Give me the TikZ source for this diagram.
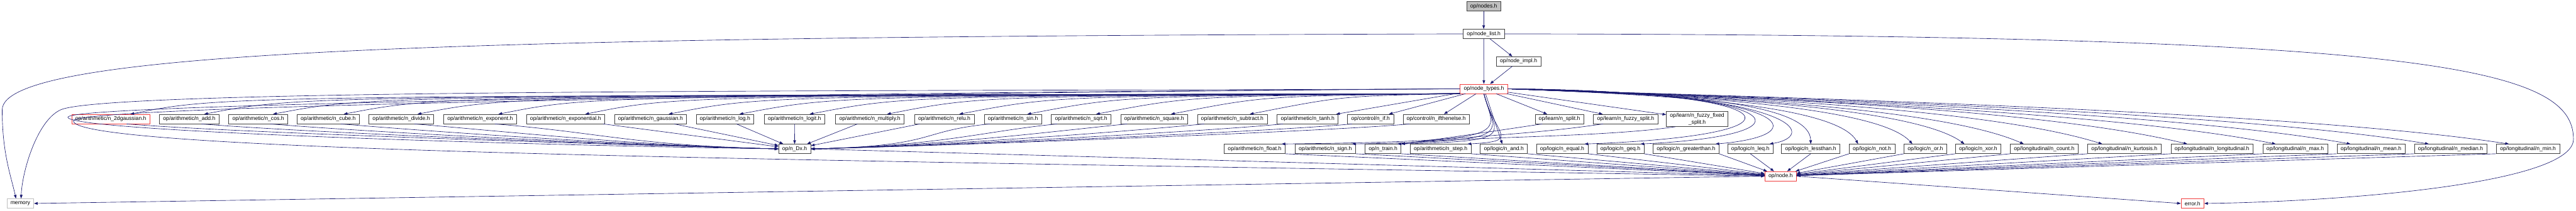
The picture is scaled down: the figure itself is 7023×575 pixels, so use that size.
\documentclass[tikz,border=0pt]{standalone}
\usepackage{fontspec}
\setmainfont{Liberation Sans}
\usepackage{tikz}
\usetikzlibrary{arrows.meta,positioning,calc}
\definecolor{edgeblue}{RGB}{25,25,112}
\definecolor{nodegrey}{RGB}{64,64,64}
\definecolor{sysgrey}{RGB}{191,191,191}
\definecolor{truncred}{RGB}{240,60,60}

\tikzset{
  file/.style={draw=nodegrey, line width=0.5pt, fill=white, inner xsep=5pt, inner ysep=0pt, minimum height=12.85pt},
  truncfile/.style={file, draw=truncred},
  sysfile/.style={file, draw=sysgrey},
  dep/.style={-{Triangle[length=5pt,width=3.6pt]}, edgeblue, line width=0.55pt},
}

\begin{document}
\begin{tikzpicture}[x=0.5pt, y=-0.5pt, font=\fontsize{7.4}{9}\selectfont]
\fill[white] (0,0) rectangle (7023,575);
\useasboundingbox (0,0) rectangle (7023,575);

% top of the graph
\node[file, fill=sysgrey] (root) at (4045,17.5) {op/nodes.h};
\node[file] (lst) at (4045,92.5) {op/node\_list.h};
\node[file] (impl) at (4140,167.5) {op/node\_impl.h};
\node[truncfile] (hub) at (4045.5,242.5) {op/node\_types.h};

% first row of operators
\node[truncfile] (g2d) at (302,325) {op/arithmetic/n\_2dgaussian.h};
\foreach \n/\x/\t in {nadd/516/n\_add, ncos/704/n\_cos, ncube/894.5/n\_cube, ndiv/1094/n\_divide,
  nexpo/1309/n\_exponent, nexpl/1542/n\_exponential, ngauss/1773.5/n\_gaussian, nlog/1976.5/n\_log,
  nlogit/2166/n\_logit, nmul/2371.5/n\_multiply, nrelu/2574.5/n\_relu, nsin/2761.5/n\_sin,
  nsqrt/2947.5/n\_sqrt, nsquare/3146.5/n\_square, nsub/3359.5/n\_subtract, ntanh/3565/n\_tanh}
  \node[file] (\n) at (\x,325) {op/arithmetic/\t.h};
\node[file] (nif) at (3736.5,325) {op/control/n\_if.h};
\node[file] (nite) at (3915.5,325) {op/control/n\_ifthenelse.h};
\node[file] (nsplit) at (4251.5,325) {op/learn/n\_split.h};
\node[file] (nfsplit) at (4432,325) {op/learn/n\_fuzzy\_split.h};
\node[file, align=center, minimum height=20.5pt] (nffsplit) at (4627,325) {op/learn/n\_fuzzy\_fixed\\\_split.h};

% second row of operators
\node[file] (dx) at (2166.5,406.5) {op/n\_Dx.h};
\node[file] (nfloat) at (3420.5,406.5) {op/arithmetic/n\_float.h};
\node[file] (nsign) at (3613,406.5) {op/arithmetic/n\_sign.h};
\node[file] (ntrain) at (3770.5,406.5) {op/n\_train.h};
\node[file] (nstep) at (3927.5,406.5) {op/arithmetic/n\_step.h};
\foreach \n/\x/\t in {nand/4100/n\_and, neq/4259/n\_equal, ngeq/4417.5/n\_geq, ngt/4596.5/n\_greaterthan,
  nleq/4772/n\_leq, nlt/4936.5/n\_lessthan, nnot/5103.5/n\_not, nor/5249/n\_or, nxor/5393/n\_xor}
  \node[file] (\n) at (\x,406.5) {op/logic/\t.h};
\foreach \n/\x/\t in {ncount/5573/n\_count, nkurt/5791.5/n\_kurtosis, nlong/6030.5/n\_longitudinal,
  nmax/6257.5/n\_max, nmean/6464/n\_mean, nmedian/6681/n\_median, nmin/6892/n\_min}
  \node[file] (\n) at (\x,406.5) {op/longitudinal/\t.h};

% bottom
\node[truncfile] (nodeh) at (4854.5,481) {op/node.h};
\node[sysfile] (memory) at (55.5,555.5) {memory};
\node[truncfile] (errorh) at (5977.5,555.5) {error.h};

% includes of the top files
\draw[dep] (root) -- (lst);
\draw[dep] (lst) -- (impl);
\draw[dep] (lst) -- (hub);
\draw[dep] (impl) -- (hub);
\draw[dep] (lst.west) .. controls (1200,100) and (6,140) .. (6,300) .. controls (6,420) and (30,480) .. ($(memory.north)+(-12,0)$);
\draw[dep] (lst.east) .. controls (6600,95) and (7016,180) .. (7016,380) .. controls (7016,500) and (6400,550) .. (errorh.east);

% hub to the first row
\foreach \n/\x in {g2d/302, nadd/516, ncos/704, ncube/894.5, ndiv/1094, nexpo/1309, nexpl/1542,
  ngauss/1773.5, nlog/1976.5, nlogit/2166, nmul/2371.5, nrelu/2574.5, nsin/2761.5, nsqrt/2947.5,
  nsquare/3146.5, nsub/3359.5}
  \draw[dep] (hub.south west) .. controls (\x+300,262) .. ($(\n.north)!.5!(\n.north east)$);
\foreach \n in {ntanh,nif,nite,nsplit,nfsplit,nffsplit}
  \draw[dep] (hub) -- (\n);

% hub round the left side
\draw[dep] (hub.west) .. controls (2600,250) and (295,240) .. (165,300) .. controls (100,330) and (60,470) .. ($(memory.north)+(2,0)$);
\draw[dep] (hub.west) .. controls (2600,250) and (185,280) .. (185,320) .. controls (185,360) and (1500,398) .. (dx.west);
\draw[dep] (hub.west) .. controls (2600,252) and (200,285) .. (200,330) .. controls (200,420) and (2500,440) .. (nodeh.west);

% hub to the second row
\foreach \n in {nfloat,nsign,ntrain,nstep}
  \draw[dep] (hub.south) .. controls (4075,370) and (4150,385) .. ($(\n.north east)+(-10,0)$);
\draw[dep] (hub) -- (nand);
\foreach \n in {neq,ngeq,ngt,nleq}
  \draw[dep] (hub.east) .. controls (4900,250) and (4960,370) .. ($(\n.north east)+(-10,0)$);
\draw[dep] (hub.east) .. controls (4700,255) and (4936,300) .. (nlt.north);
\foreach \n/\b/\c in {nnot/-60/-110, nor/-100/-110, nxor/-150/-110, ncount/-250/-110, nkurt/-350/-110,
  nlong/-450/-110, nmax/-500/-100, nmean/-550/-100, nmedian/-600/-100, nmin/-650/-100}
  \draw[dep] (hub.east) .. controls +(400,15) and +(\b,\c) .. ($(\n.north west)!.2!(\n.north east)$);

% first row to op/n_Dx.h
\foreach \n in {g2d,nadd,ncos,ncube,ndiv,nexpo}
  \draw[dep] ($(\n.south)!.4!(\n.south east)$) .. controls +(300,25) and +(-400,-10) .. (dx.west);
\foreach \n in {nexpl,ngauss,nlog,nlogit,nmul,nrelu}
  \draw[dep] (\n) -- (dx);
\foreach \n in {nsin,nsqrt,nsquare,nsub,ntanh,nif,nite}
  \draw[dep] ($(\n.south west)!.2!(\n.south)$) .. controls +(-200,20) and +(350,-8) .. (dx.east);

% learn ops to op/n_train.h
\foreach \n in {nsplit,nfsplit,nffsplit}
  \draw[dep] ($(\n.south west)!.3!(\n.south)$) .. controls +(-200,30) and +(150,-20) .. (ntrain.north east);

% second row to op/node.h
\draw[dep] (dx.east) -- (nodeh);
\foreach \n in {nfloat,nsign,ntrain,nstep,nand,neq,ngeq,ngt}
  \draw[dep] (\n.south east) -- (nodeh);
\foreach \n in {nleq,nlt}
  \draw[dep] (\n.south) -- (nodeh);
\foreach \n in {nnot,nor,nxor,ncount,nkurt,nlong,nmax,nmean,nmedian,nmin}
  \draw[dep] (\n.south west) -- (nodeh);

% op/node.h includes
\draw[dep] (nodeh.west) -- (memory.east);
\draw[dep] (nodeh.east) -- (errorh.west);
\end{tikzpicture}
\end{document}
